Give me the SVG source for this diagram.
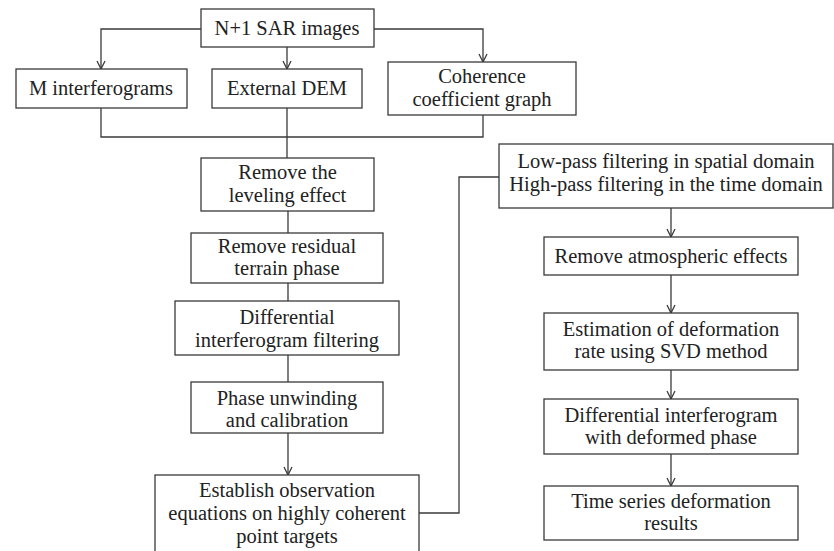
<svg xmlns="http://www.w3.org/2000/svg" width="834" height="551" viewBox="0 0 834 551">
<style>
.box{fill:#fff;stroke:#3a3a3a;stroke-width:1.3}
.t{font-family:"Liberation Serif","DejaVu Serif",serif;font-size:20.5px;fill:#222;text-anchor:middle}
.c{fill:none;stroke:#3a3a3a;stroke-width:1.3}
</style>
<defs>
<marker id="a" viewBox="0 0 10 10" refX="9" refY="5" markerWidth="10" markerHeight="10" markerUnits="userSpaceOnUse" orient="auto">
<path d="M1,1 L9,5 L1,9" fill="none" stroke="#3a3a3a" stroke-width="1.3"/>
</marker>
</defs>
<rect width="834" height="551" fill="#fff"/>
<g id="connectors">
<path class="c" d="M201,29 H101 V69" marker-end="url(#a)"/>
<path class="c" d="M287,47 V69" marker-end="url(#a)"/>
<path class="c" d="M374,29 H483 V62" marker-end="url(#a)"/>
<path class="c" d="M101,108 V137 H483 V115"/>
<path class="c" d="M287,108 V158"/>
<path class="c" d="M288,211 V233"/>
<path class="c" d="M288,283 V301"/>
<path class="c" d="M288,355 V382"/>
<path class="c" d="M288,433 V475" marker-end="url(#a)"/>
<path class="c" d="M419,513 H459 V177 H499"/>
<path class="c" d="M671,208 V237" marker-end="url(#a)"/>
<path class="c" d="M671,275 V313" marker-end="url(#a)"/>
<path class="c" d="M671,370 V399" marker-end="url(#a)"/>
<path class="c" d="M671,454 V486" marker-end="url(#a)"/>
</g>
<g id="n1"><rect class="box" x="201" y="9" width="173" height="38"/><text class="t" x="287" y="35">N+1 SAR images</text></g>
<g id="n2"><rect class="box" x="16" y="69" width="171" height="39"/><text class="t" x="101" y="95">M interferograms</text></g>
<g id="n3"><rect class="box" x="212" y="69" width="150" height="39"/><text class="t" x="287" y="95">External DEM</text></g>
<g id="n4"><rect class="box" x="388" y="62" width="188" height="53"/><text class="t" x="482" y="83">Coherence</text><text class="t" x="482" y="106">coefficient graph</text></g>
<g id="n5"><rect class="box" x="201" y="158" width="173" height="53"/><text class="t" x="287.5" y="179">Remove the</text><text class="t" x="287.5" y="202">leveling effect</text></g>
<g id="n6"><rect class="box" x="191" y="233" width="192" height="50"/><text class="t" x="287" y="253">Remove residual</text><text class="t" x="287" y="275">terrain phase</text></g>
<g id="n7"><rect class="box" x="175" y="301" width="224" height="54"/><text class="t" x="287" y="324">Differential</text><text class="t" x="287" y="347">interferogram filtering</text></g>
<g id="n8"><rect class="box" x="191" y="382" width="192" height="51"/><text class="t" x="287" y="405">Phase unwinding</text><text class="t" x="287" y="427">and calibration</text></g>
<g id="n9"><rect class="box" x="155" y="475" width="264" height="82"/><text class="t" x="287" y="497">Establish observation</text><text class="t" x="287" y="520">equations on highly coherent</text><text class="t" x="287" y="543">point targets</text></g>
<g id="n10"><rect class="box" x="499" y="144" width="334" height="64"/><text class="t" x="666" y="168">Low-pass filtering in spatial domain</text><text class="t" x="666" y="191">High-pass filtering in the time domain</text></g>
<g id="n11"><rect class="box" x="544" y="237" width="254" height="38"/><text class="t" x="671" y="263">Remove atmospheric effects</text></g>
<g id="n12"><rect class="box" x="544" y="313" width="254" height="57"/><text class="t" x="671" y="336">Estimation of deformation</text><text class="t" x="671" y="358">rate using SVD method</text></g>
<g id="n13"><rect class="box" x="544" y="399" width="254" height="55"/><text class="t" x="671" y="422">Differential interferogram</text><text class="t" x="671" y="444">with deformed phase</text></g>
<g id="n14"><rect class="box" x="544" y="486" width="254" height="54"/><text class="t" x="671" y="508">Time series deformation</text><text class="t" x="671" y="530">results</text></g>
</svg>
